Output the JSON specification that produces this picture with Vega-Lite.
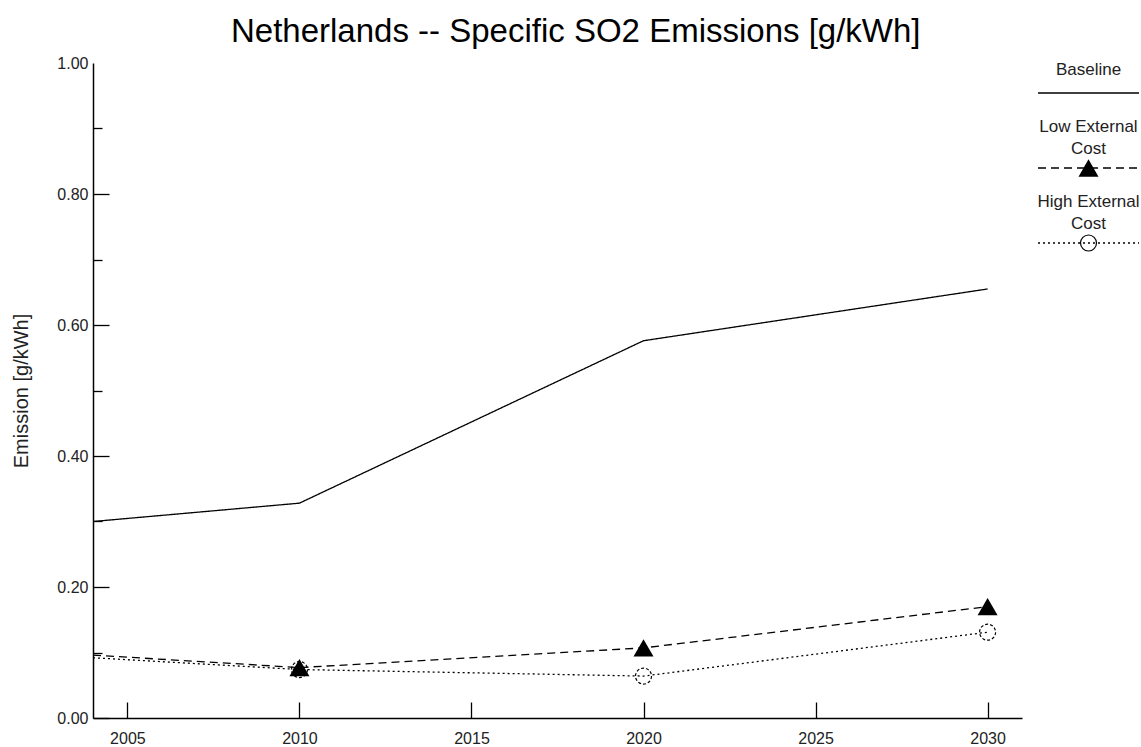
{
  "$schema": "https://vega.github.io/schema/vega-lite/v6.json",
  "autosize": {"type": "pad"},
  "padding": {"left": 11, "top": 16, "right": 0, "bottom": 0},
  "background": "white",
  "title": {
    "text": "Netherlands -- Specific SO2 Emissions [g/kWh]",
    "font": "Liberation Sans",
    "fontSize": 33,
    "fontWeight": "normal",
    "color": "black",
    "anchor": "middle",
    "frame": "bounds",
    "offset": 6
  },
  "config": {
    "view": {"stroke": null},
    "font": "Liberation Sans",
    "axis": {
      "domainColor": "black",
      "domainWidth": 1.5,
      "tickColor": "black",
      "tickWidth": 1.3,
      "labelFont": "Liberation Sans",
      "labelFontSize": 16,
      "labelColor": "#222",
      "titleFont": "Liberation Sans",
      "titleFontWeight": "normal",
      "titleColor": "#222",
      "grid": false
    }
  },
  "datasets": {
    "emissions": [
      {"year": 2004, "value": 0.300, "scenario": "Baseline"},
      {"year": 2010, "value": 0.328, "scenario": "Baseline"},
      {"year": 2020, "value": 0.576, "scenario": "Baseline"},
      {"year": 2030, "value": 0.655, "scenario": "Baseline"},
      {"year": 2004, "value": 0.096, "scenario": "Low External Cost"},
      {"year": 2010, "value": 0.077, "scenario": "Low External Cost"},
      {"year": 2020, "value": 0.107, "scenario": "Low External Cost"},
      {"year": 2030, "value": 0.170, "scenario": "Low External Cost"},
      {"year": 2004, "value": 0.092, "scenario": "High External Cost"},
      {"year": 2010, "value": 0.074, "scenario": "High External Cost"},
      {"year": 2020, "value": 0.064, "scenario": "High External Cost"},
      {"year": 2030, "value": 0.131, "scenario": "High External Cost"}
    ],
    "legendEntries": [
      {"scenario": "Baseline", "label": "Baseline"},
      {"scenario": "Low External Cost", "label": "Low External\nCost"},
      {"scenario": "High External Cost", "label": "High External\nCost"}
    ]
  },
  "spacing": 15,
  "hconcat": [
    {
      "width": 929,
      "height": 655,
      "data": {"name": "emissions"},
      "encoding": {
        "x": {
          "field": "year",
          "type": "quantitative",
          "scale": {"domain": [2004, 2031], "nice": false, "zero": false},
          "axis": {
            "title": null,
            "values": [2005, 2010, 2015, 2020, 2025, 2030],
            "format": "d",
            "tickSize": -16,
            "labelPadding": 28
          }
        },
        "y": {
          "field": "value",
          "type": "quantitative",
          "scale": {"domain": [0, 1], "nice": false},
          "axis": {
            "title": "Emission [g/kWh]",
            "titleFontSize": 20,
            "titlePadding": 25,
            "values": [0, 0.1, 0.2, 0.3, 0.4, 0.5, 0.6, 0.7, 0.8, 0.9, 1.0],
            "format": ".2f",
            "labelExpr": "round(datum.value * 10) % 2 == 0 ? datum.label : ''",
            "tickSize": {
              "condition": {"test": "round(datum.value * 10) % 2 == 0", "value": -16},
              "value": -9
            },
            "tickOpacity": {
              "condition": {"test": "datum.value > 0.95", "value": 0},
              "value": 1
            },
            "labelPadding": 21
          }
        }
      },
      "layer": [
        {
          "mark": {"type": "line", "color": "black", "strokeWidth": 1.3},
          "encoding": {
            "strokeDash": {
              "field": "scenario",
              "type": "nominal",
              "scale": {
                "domain": ["Baseline", "Low External Cost", "High External Cost"],
                "range": [[1, 0], [8, 5], [2, 3]]
              },
              "legend": null
            }
          }
        },
        {
          "transform": [{"filter": "datum.scenario == 'Low External Cost' && datum.year >= 2010"}],
          "mark": {"type": "point", "shape": "triangle-up", "filled": true, "color": "black", "size": 400, "opacity": 1}
        },
        {
          "transform": [{"filter": "datum.scenario == 'High External Cost' && datum.year >= 2010"}],
          "mark": {"type": "point", "shape": "circle", "filled": false, "stroke": "black", "fill": "transparent", "strokeWidth": 1.2, "strokeDash": [3, 2], "size": 256, "opacity": 1}
        }
      ]
    },
    {
      "width": 101,
      "height": 210,
      "data": {"name": "legendEntries"},
      "encoding": {
        "y": {
          "field": "scenario",
          "type": "nominal",
          "scale": {
            "type": "point",
            "domain": ["Baseline", "Low External Cost", "High External Cost"],
            "padding": 0.4
          },
          "axis": null
        }
      },
      "layer": [
        {
          "mark": {"type": "rule", "color": "black", "strokeWidth": 1.3},
          "encoding": {
            "x": {"datum": 0, "type": "quantitative", "scale": {"domain": [0, 1]}, "axis": null},
            "x2": {"datum": 1},
            "strokeDash": {
              "field": "scenario",
              "type": "nominal",
              "scale": {
                "domain": ["Baseline", "Low External Cost", "High External Cost"],
                "range": [[1, 0], [8, 5], [2, 3]]
              },
              "legend": null
            }
          }
        },
        {
          "transform": [{"filter": "datum.scenario == 'Low External Cost'"}],
          "mark": {"type": "point", "shape": "triangle-up", "filled": true, "color": "black", "size": 400, "opacity": 1},
          "encoding": {"x": {"datum": 0.5, "type": "quantitative"}}
        },
        {
          "transform": [{"filter": "datum.scenario == 'High External Cost'"}],
          "mark": {"type": "point", "shape": "circle", "filled": false, "stroke": "black", "fill": "transparent", "strokeWidth": 1.2, "size": 256, "opacity": 1},
          "encoding": {"x": {"datum": 0.5, "type": "quantitative"}}
        },
        {
          "transform": [{"filter": "datum.scenario == 'Baseline'"}],
          "mark": {"type": "text", "font": "Liberation Sans", "fontSize": 17, "color": "#222", "align": "center", "baseline": "alphabetic", "dy": -18},
          "encoding": {
            "x": {"datum": 0.5, "type": "quantitative"},
            "text": {"field": "label"}
          }
        },
        {
          "transform": [{"filter": "datum.scenario != 'Baseline'"}],
          "mark": {"type": "text", "font": "Liberation Sans", "fontSize": 17, "color": "#222", "align": "center", "baseline": "alphabetic", "dy": -36, "lineBreak": "\n", "lineHeight": 22},
          "encoding": {
            "x": {"datum": 0.5, "type": "quantitative"},
            "text": {"field": "label"}
          }
        }
      ]
    }
  ]
}
